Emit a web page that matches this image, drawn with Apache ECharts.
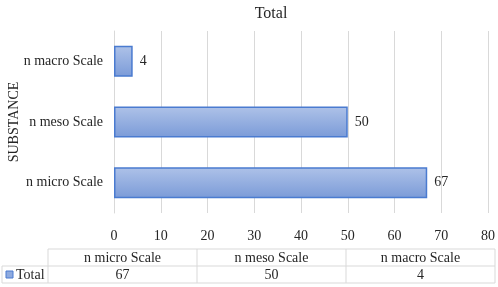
<!DOCTYPE html>
<html lang="en">
<head>
    <meta charset="UTF-8">
    <title>Total</title>
    <script src="https://cdn.jsdelivr.net/npm/echarts@6/dist/echarts.min.js"></script>
    <style>
        *{margin:0;padding:0;}
        body{background:#fff;overflow:hidden;}
        #main{width:498px;height:287px;}
    </style>
</head>
<body>
<div id="main"></div>
<script>
    // data
    var categories = ['n micro Scale', 'n meso Scale', 'n macro Scale'];
    var totalValues = [67, 50, 4];
    var seriesName = 'Total';
    var xTicks = {min: 0, max: 80, interval: 10};

    var font = 'Liberation Serif, Times New Roman, serif';
    var textColor = '#262626';
    var lineColor = '#d9d9d9';

    var barFill = new echarts.graphic.LinearGradient(0, 0, 0, 1, [
        {offset: 0, color: '#aec2e8'},
        {offset: 1, color: '#7b9bd8'}
    ]);

    // data table under the chart, built from the same arrays
    function buildTable() {
        var els = [];
        var left = 48, colW = 149, top = 249, rowH = 17;
        var right = left + colW * categories.length;
        var ln = {stroke: lineColor, lineWidth: 1};
        els.push({type: 'line', shape: {x1: left, y1: top, x2: right, y2: top}, style: ln});
        els.push({type: 'line', shape: {x1: 2, y1: top + rowH, x2: right, y2: top + rowH}, style: ln});
        els.push({type: 'line', shape: {x1: 2, y1: top + rowH * 2, x2: right, y2: top + rowH * 2}, style: ln});
        for (var i = 0; i <= categories.length; i++) {
            var x = left + colW * i;
            els.push({type: 'line', shape: {x1: x, y1: top, x2: x, y2: top + rowH * 2}, style: ln});
        }
        els.push({type: 'line', shape: {x1: 2, y1: top + rowH, x2: 2, y2: top + rowH * 2}, style: ln});
        for (var j = 0; j < categories.length; j++) {
            var cx = left + colW * j + colW / 2;
            els.push({type: 'text', x: cx, y: top + rowH / 2 + 1, style: {text: categories[j], font: '14px ' + font, fill: textColor, align: 'center', verticalAlign: 'middle'}});
            els.push({type: 'text', x: cx, y: top + rowH * 1.5 + 1, style: {text: String(totalValues[j]), font: '14px ' + font, fill: textColor, align: 'center', verticalAlign: 'middle'}});
        }
        // legend key
        els.push({type: 'rect', shape: {x: 6, y: top + rowH + 5, width: 7, height: 7}, style: {fill: '#8eaadf', stroke: '#4a7bd0', lineWidth: 1}});
        els.push({type: 'text', x: 16, y: top + rowH * 1.5 + 1, style: {text: seriesName, font: '14px ' + font, fill: textColor, align: 'left', verticalAlign: 'middle'}});
        return els;
    }

    var myChart = echarts.init(document.getElementById('main'));
    var option = {
        animation: false,
        title: {
            text: seriesName,
            left: 266,
            textAlign: 'center',
            top: 1,
            textStyle: {fontFamily: font, fontSize: 16, fontWeight: 'normal', color: textColor}
        },
        grid: {left: 114, right: 10, top: 31, bottom: 74, containLabel: false, outerBoundsMode: 'none'},
        xAxis: {
            type: 'value',
            min: xTicks.min,
            max: xTicks.max,
            interval: xTicks.interval,
            axisLine: {show: false},
            axisTick: {show: false},
            splitLine: {show: true, lineStyle: {color: lineColor, width: 1}},
            axisLabel: {margin: 16, color: textColor, fontFamily: font, fontSize: 14}
        },
        yAxis: {
            type: 'category',
            data: categories,
            name: 'SUBSTANCE',
            nameLocation: 'middle',
            nameGap: 93,
            nameRotate: 90,
            nameMoveOverlap: false,
            nameTextStyle: {fontFamily: font, fontSize: 14, color: textColor},
            axisLine: {show: true, lineStyle: {color: lineColor}},
            axisTick: {show: false},
            axisLabel: {margin: 11, color: textColor, fontFamily: font, fontSize: 14}
        },
        series: [{
            name: seriesName,
            type: 'bar',
            data: totalValues,
            barWidth: '51%',
            itemStyle: {color: barFill, borderColor: '#4a7bd0', borderWidth: 1.5},
            label: {show: true, position: 'right', distance: 7, color: textColor, fontFamily: font, fontSize: 14}
        }],
        graphic: buildTable()
    };
    myChart.setOption(option);
</script>
</body>
</html>
